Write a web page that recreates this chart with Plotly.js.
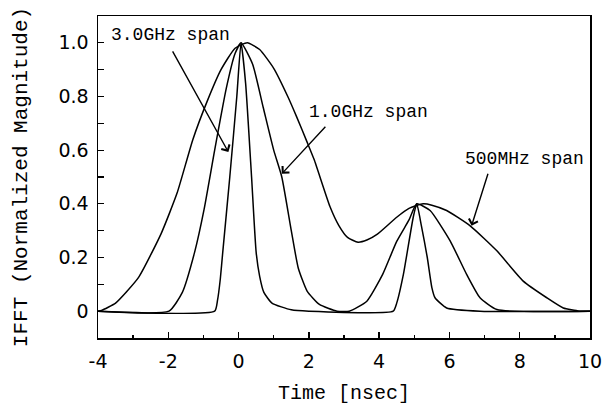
<!DOCTYPE html>
<html>
<head>
<meta charset="utf-8">
<script src="https://cdn.plot.ly/plotly-3.0.1.min.js"></script>
<style>html,body{margin:0;padding:0;background:#fff;}#chart{width:615px;height:405px;}</style>
</head>
<body>
<div id="chart"></div>
<script>
// 3.0 GHz span (narrowest)
const t3 = [-4, -0.68, -0.6, -0.52, -0.45, -0.25, -0.05, 0.07, 0.2, 0.37, 0.5, 0.6, 0.72, 0.95, 1.5, 2.0, 4.4, 4.5, 4.69, 4.97, 5.07, 5.2, 5.37, 5.5, 5.59, 5.92, 6.87, 10];
const y3 = [0, 0, 0.04, 0.12, 0.22, 0.5, 0.8, 1.0, 0.85, 0.5, 0.22, 0.13, 0.07, 0.03, 0.005, 0, 0, 0.03, 0.137, 0.35, 0.4, 0.32, 0.2, 0.088, 0.05, 0.012, 0, 0];
// 1.0 GHz span
const t1 = [-4, -1.98, -1.6, -1.25, -0.98, -0.68, -0.35, -0.1, 0.07, 0.4, 0.7, 1.0, 1.23, 1.5, 1.7, 1.95, 2.3, 2.8, 3.15, 3.65, 4.1, 4.5, 4.85, 5.07, 5.45, 6.02, 6.49, 6.87, 7.35, 10];
const y1 = [0, 0, 0.07, 0.22, 0.38, 0.6, 0.83, 0.96, 1.0, 0.92, 0.76, 0.6, 0.5, 0.3, 0.16, 0.075, 0.025, 0, 0, 0.037, 0.137, 0.26, 0.34, 0.4, 0.375, 0.262, 0.137, 0.05, 0.006, 0];
// 500 MHz span (widest)
const t5 = [-4, -3.9, -3.5, -2.85, -2.2, -1.75, -1.3, -0.9, -0.5, -0.1, 0.25, 0.6, 1.0, 1.4, 1.65, 1.95, 2.15, 2.6, 2.85, 3.1, 3.4, 3.65, 3.95, 4.5, 4.85, 5.25, 5.5, 5.92, 6.59, 7.35, 8.1, 8.77, 9.24, 9.7, 10];
const y5 = [0, 0.003, 0.03, 0.125, 0.29, 0.44, 0.64, 0.78, 0.9, 0.98, 1.0, 0.975, 0.905, 0.8, 0.725, 0.63, 0.565, 0.39, 0.32, 0.275, 0.257, 0.265, 0.287, 0.35, 0.383, 0.4, 0.395, 0.375, 0.318, 0.225, 0.112, 0.05, 0.012, 0, 0];

const xTickVals = [-4, -2, 0, 2, 4, 6, 8, 10];
const xTickText = ['-4', '-2', '0', '2', '4', '6', '8', '10'];
const xMinorVals = [-3, -1, 1, 3, 5, 7, 9];
const yTickVals = [0, 0.2, 0.4, 0.6, 0.8, 1.0];
const yTickText = ['0', '0.2', '0.4', '0.6', '0.8', '1.0'];
const yMinorVals = [0.1, 0.3, 0.5, 0.7, 0.9];

const labels = ['3.0GHz span', '1.0GHz span', '500MHz span'];
const labelX = [-3.7, 1.94, 6.4];
const labelY = [1.03, 0.743, 0.568];
const arrowTailX = [-1.9, 2.51, 7.11];
const arrowTailY = [0.974, 0.693, 0.518];
const arrowHeadX = [-0.29, 1.23, 6.63];
const arrowHeadY = [0.593, 0.512, 0.318];

const lineStyle = {color: '#000', width: 1.5, shape: 'spline', smoothing: 0.5};
const traces = [
  {x: t3, y: y3, mode: 'lines', line: lineStyle, name: '3.0GHz'},
  {x: t1, y: y1, mode: 'lines', line: lineStyle, name: '1.0GHz'},
  {x: t5, y: y5, mode: 'lines', line: lineStyle, name: '500MHz'}
];

const annotations = [];
for (let i = 0; i < labels.length; i++) {
  annotations.push({x: labelX[i], y: labelY[i], xref: 'x', yref: 'y', text: labels[i],
    showarrow: false, xanchor: 'left', yanchor: 'middle',
    font: {family: 'Liberation Mono, monospace', size: 18, color: '#000'}});
  annotations.push({x: arrowHeadX[i], y: arrowHeadY[i], xref: 'x', yref: 'y',
    ax: arrowTailX[i], ay: arrowTailY[i], axref: 'x', ayref: 'y', text: '',
    showarrow: true, arrowhead: 4, arrowsize: 1.3, arrowwidth: 1.4, arrowcolor: '#000', standoff: 0});
}

const layout = {
  width: 615, height: 405,
  margin: {l: 98, r: 25, t: 16, b: 67},
  paper_bgcolor: '#fff', plot_bgcolor: '#fff',
  showlegend: false,
  font: {family: 'DejaVu Sans, sans-serif', color: '#000'},
  xaxis: {
    range: [-4, 10], showgrid: false, zeroline: false,
    showline: true, mirror: true, linecolor: '#000', linewidth: 1.5,
    tickmode: 'array', tickvals: xTickVals, ticktext: xTickText,
    ticks: 'inside', ticklen: 6, tickwidth: 1.3, tickcolor: '#000',
    minor: {tickmode: 'array', tickvals: xMinorVals, ticks: 'inside', ticklen: 3, tickwidth: 1.3, tickcolor: '#000'},
    tickfont: {family: 'DejaVu Sans, sans-serif', size: 19, color: '#000'},
    ticklabelstandoff: 6,
    title: {text: 'Time [nsec]', font: {family: 'Liberation Mono, monospace', size: 20, color: '#000'}, standoff: 13}
  },
  yaxis: {
    range: [-0.1, 1.1], showgrid: false, zeroline: false,
    showline: true, mirror: true, linecolor: '#000', linewidth: 1.5,
    tickmode: 'array', tickvals: yTickVals, ticktext: yTickText,
    ticks: 'inside', ticklen: 6, tickwidth: 1.3, tickcolor: '#000',
    minor: {tickmode: 'array', tickvals: yMinorVals, ticks: 'inside', ticklen: 6, tickwidth: 1.3, tickcolor: '#000'},
    tickfont: {family: 'DejaVu Sans, sans-serif', size: 19, color: '#000'},
    ticklabelstandoff: 4,
    title: {text: 'IFFT (Normalized Magnitude)', font: {family: 'Liberation Mono, monospace', size: 21, color: '#000'}, standoff: 25}
  },
  annotations: annotations
};

Plotly.newPlot('chart', traces, layout, {staticPlot: true, displayModeBar: false});
</script>
</body>
</html>
